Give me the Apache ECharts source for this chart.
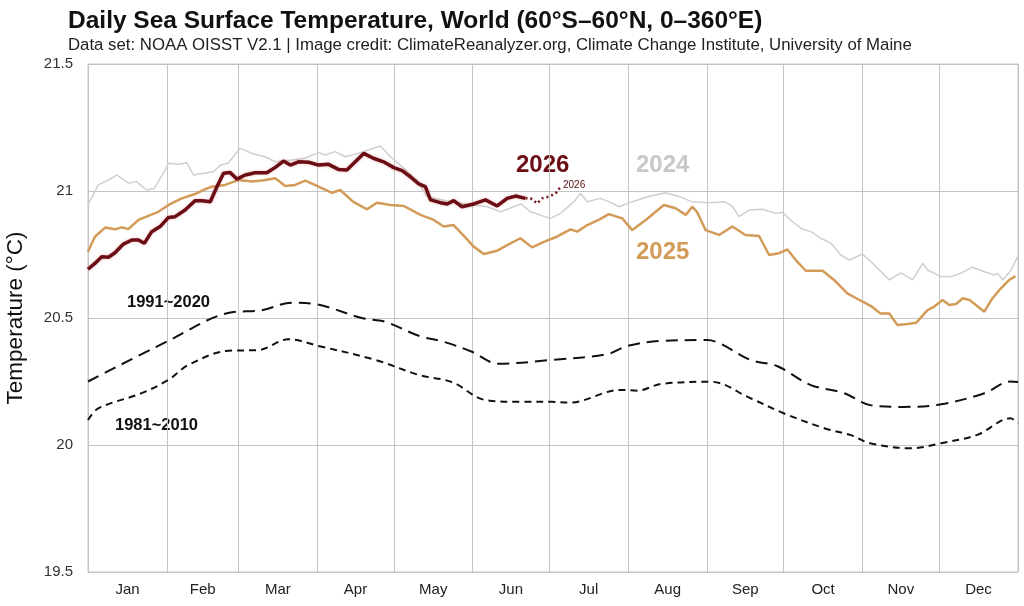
<!DOCTYPE html>
<html>
<head>
<meta charset="utf-8">
<title>Daily Sea Surface Temperature, World</title>
<script src="https://cdn.jsdelivr.net/npm/echarts@6/dist/echarts.min.js"></script>
<style>
  html, body { margin: 0; padding: 0; background: #fff; }
  #main { width: 1024px; height: 606px; }
</style>
</head>
<body>
<div id="main"></div>
<script>
// month boundaries (day of year) and label positions
var monthStarts = [0, 31, 59, 90, 120, 151, 181, 212, 243, 273, 304, 334, 365];
var monthMids = [15.5, 45, 74.5, 105, 135.5, 166, 196.5, 227.5, 258, 288.5, 319, 349.5];
var monthNames = ['Jan','Feb','Mar','Apr','May','Jun','Jul','Aug','Sep','Oct','Nov','Dec'];

// [day of year, °C]
var clim9120 = [[0,20.25],[31.5,20.41],[55,20.52],[68,20.53],[80,20.56],[89,20.555],[107.5,20.5],[116.7,20.485],
  [129.8,20.43],[140,20.405],[150.7,20.367],[161,20.32],[182,20.335],[203.8,20.358],[211.7,20.39],[224.8,20.41],
  [243,20.413],[248,20.4],[260,20.335],[270.6,20.31],[283.7,20.236],[296.8,20.204],[307,20.157],[320,20.15],
  [334.8,20.16],[351.8,20.204],[362,20.25],[365,20.248]];

var clim8110 = [[0,20.098],[4,20.144],[21,20.204],[31.5,20.256],[39.4,20.315],[55,20.371],[67,20.374],[78.7,20.416],
  [90.5,20.39],[112.8,20.335],[129.8,20.276],[143,20.247],[156,20.177],[170,20.17],[182,20.17],[189,20.167],
  [209,20.217],[215.6,20.214],[224.8,20.24],[244.4,20.249],[260,20.184],[273,20.125],[289,20.066],[299.4,20.039],
  [307,20.007],[323,19.987],[334.8,20.007],[349,20.04],[362,20.105],[365,20.085]];

var sst2024 = [[0,20.945],[4,21.024],[8,21.043],[11.3,21.063],[16,21.03],[19,21.037],[23,21.004],[26,21.01],
  [29.6,21.07],[31.6,21.109],[35.5,21.105],[38.8,21.111],[41.4,21.063],[45.3,21.07],[49.2,21.076],[52,21.102],
  [55,21.109],[59.7,21.168],[64.3,21.148],[69.5,21.135],[73.5,21.115],[80,21.122],[85,21.129],[90.5,21.151],
  [93,21.142],[97,21.155],[101,21.135],[107,21.151],[114.7,21.177],[118.7,21.135],[124,21.089],[129,21.043],
  [133,20.978],[142,20.958],[151,20.945],[156.7,20.938],[162,20.918],[167,20.938],[170,20.949],[173.7,20.918],
  [179,20.9],[181.5,20.892],[185.5,20.912],[190.7,20.958],[193.3,20.99],[196,20.958],[201,20.971],[204.4,20.958],
  [208.4,20.938],[213.6,20.958],[220,20.978],[226.7,20.993],[232,20.978],[237,20.958],[243.7,20.954],[250,20.958],
  [253,20.938],[255.5,20.899],[259.5,20.925],[264.7,20.928],[270,20.912],[272.6,20.915],[276.5,20.879],
  [280.4,20.85],[283.7,20.84],[287.6,20.814],[291.6,20.794],[295.5,20.748],[298.7,20.728],[304,20.752],
  [308.6,20.709],[314.5,20.65],[319,20.678],[323.6,20.65],[327.6,20.715],[329.5,20.689],[334.8,20.663],
  [338.7,20.663],[342.6,20.676],[347,20.7],[351.8,20.682],[355.7,20.669],[357,20.676],[359,20.65],
  [362.3,20.689],[365,20.745]];

var sst2025 = [[0,20.761],[2.7,20.82],[6.7,20.856],[10.6,20.849],[13.2,20.857],[15.8,20.85],[19.8,20.886],
  [23.7,20.902],[27.6,20.918],[31.6,20.945],[36.8,20.971],[42,20.988],[46,21.007],[48.6,21.017],[53.8,21.024],
  [59,21.043],[64.3,21.037],[68.3,21.041],[73.5,21.05],[77.4,21.02],[81.3,21.024],[85.3,21.041],[90.5,21.017],
  [95.8,20.993],[99,21.004],[104,20.958],[109.5,20.928],[113.4,20.954],[118.7,20.945],[124,20.941],
  [130.5,20.906],[135.7,20.886],[139.6,20.86],[143.5,20.866],[147.5,20.823],[151.4,20.781],[155.3,20.752],
  [160.6,20.765],[164.5,20.787],[169.7,20.814],[174.3,20.778],[178.9,20.8],[184,20.82],[189.4,20.849],
  [192,20.84],[196,20.866],[201,20.889],[204.4,20.909],[209.7,20.892],[213.6,20.846],[218.9,20.886],
  [226,20.945],[230.6,20.932],[234.6,20.906],[237.2,20.938],[239,20.918],[242.4,20.846],[247.7,20.827],
  [252.9,20.86],[258,20.827],[263.4,20.823],[267.3,20.748],[271.2,20.755],[274.5,20.77],[277.8,20.728],
  [281.7,20.686],[288.3,20.686],[292.8,20.65],[298,20.597],[303.3,20.568],[307.3,20.547],[311,20.518],
  [314.5,20.518],[317.7,20.472],[321.7,20.476],[325,20.481],[329.5,20.531],[332,20.544],[335.4,20.571],
  [338,20.551],[340.7,20.555],[343.3,20.578],[346,20.571],[351.8,20.525],[355,20.578],[358.3,20.617],
  [361.6,20.65],[364,20.665]];

var sst2026 = [[0,20.692],[2.7,20.715],[5.4,20.741],[8,20.739],[10.6,20.757],[13.9,20.791],[17.2,20.807],
  [19.8,20.807],[22.1,20.794],[25,20.84],[28.3,20.86],[31.6,20.896],[34.2,20.899],[38.1,20.925],[42,20.962],
  [44.7,20.962],[48,20.958],[50.6,21.017],[53.2,21.07],[55.8,21.073],[58.4,21.047],[61.7,21.063],[65.6,21.072],
  [70.2,21.072],[73.5,21.093],[76.7,21.118],[79.4,21.102],[82.6,21.115],[86.6,21.113],[90.5,21.102],
  [94.4,21.105],[98.3,21.085],[101.6,21.083],[108.2,21.148],[112,21.129],[116,21.115],[120,21.092],
  [123.3,21.08],[126.5,21.056],[129.8,21.028],[132.4,21.017],[134.4,20.965],[138.3,20.954],[141,20.949],
  [143.5,20.962],[146.8,20.938],[151.4,20.949],[156,20.965],[160.6,20.941],[164.5,20.971],[167.8,20.98],
  [171.7,20.971]];

// dotted extension after the last observed day
var fc2026 = [[171.7,20.971],[173.7,20.971],[176.3,20.951],[178.2,20.971],[180.9,20.978],[183.5,20.99],[185.5,21.017]];

var chart = echarts.init(document.getElementById('main'));

var FONT = 'Liberation Sans, Arial, sans-serif';

var option = {
  backgroundColor: '#fff',
  animation: false,
  title: [{
    text: 'Daily Sea Surface Temperature, World (60°S–60°N, 0–360°E)',
    left: 63, top: 4,
    textStyle: { fontFamily: FONT, fontSize: 24.5, fontWeight: 'bold', color: '#111' }
  }, {
    text: 'Data set: NOAA OISST V2.1 | Image credit: ClimateReanalyzer.org, Climate Change Institute, University of Maine',
    left: 63, top: 32,
    textStyle: { fontFamily: FONT, fontSize: 16.8, fontWeight: 'normal', color: '#222' }
  }],
  grid: {
    left: 88, right: 6, top: 64, bottom: 34,
    outerBoundsMode: 'none',
    show: true, borderColor: '#c4c4c4', borderWidth: 1
  },
  xAxis: {
    type: 'value', min: 0, max: 365,
    axisLine: { show: false },
    axisTick: { show: false, customValues: monthStarts },
    splitLine: { show: true, lineStyle: { color: '#c4c4c4', width: 1 } },
    axisLabel: {
      customValues: monthMids, margin: 10,
      fontFamily: FONT, fontSize: 15, color: '#222',
      formatter: function (v) { return monthNames[monthMids.indexOf(v)] || ''; }
    }
  },
  yAxis: {
    type: 'value', min: 19.5, max: 21.5, interval: 0.5,
    name: 'Temperature (°C)', nameLocation: 'middle', nameGap: 61,
    nameTextStyle: { fontFamily: FONT, fontSize: 22.5, color: '#111' },
    axisLine: { show: false },
    axisTick: { show: false },
    splitLine: { show: true, lineStyle: { color: '#c4c4c4', width: 1 } },
    axisLabel: { fontFamily: FONT, fontSize: 15, color: '#333', margin: 15 }
  },
  series: [{
    name: '2024', type: 'line', data: sst2024, showSymbol: false,
    lineStyle: { color: '#cfcfcf', width: 1.5 }, z: 2
  }, {
    name: '1991~2020', type: 'line', data: clim9120, showSymbol: false, smooth: 0.35,
    lineStyle: { color: '#111', width: 2, type: [12, 7] }, z: 3
  }, {
    name: '1981~2010', type: 'line', data: clim8110, showSymbol: false, smooth: 0.35,
    lineStyle: { color: '#111', width: 2, type: [7, 5] }, z: 3
  }, {
    name: '2025', type: 'line', data: sst2025, showSymbol: false,
    lineStyle: { color: '#d39b58', width: 2.5 }, z: 4
  }, {
    name: '2026f', type: 'line', data: fc2026, showSymbol: false,
    lineStyle: { color: '#7a1a20', width: 2.5, type: [2, 3] }, z: 5
  }, {
    name: '2026', type: 'line', data: sst2026, showSymbol: false,
    lineStyle: { color: '#6b0d14', width: 3.5, shadowColor: 'rgba(220,120,120,0.5)', shadowBlur: 3 }, z: 6
  }],
  graphic: [
    { type: 'text', left: 516, top: 153, style: { text: '2026', font: 'bold 24px ' + FONT, fill: '#6b0d14' } },
    { type: 'text', left: 563, top: 180, style: { text: '2026', font: '10px ' + FONT, fill: '#5a0d12' } },
    { type: 'text', left: 636, top: 153, style: { text: '2024', font: 'bold 24px ' + FONT, fill: '#c8c8c8' } },
    { type: 'text', left: 636, top: 240, style: { text: '2025', font: 'bold 24px ' + FONT, fill: '#d39b58' } },
    { type: 'text', left: 127, top: 294, style: { text: '1991~2020', font: 'bold 16.5px ' + FONT, fill: '#111' } },
    { type: 'text', left: 115, top: 417, style: { text: '1981~2010', font: 'bold 16.5px ' + FONT, fill: '#111' } }
  ]
};

chart.setOption(option);
</script>
</body>
</html>
